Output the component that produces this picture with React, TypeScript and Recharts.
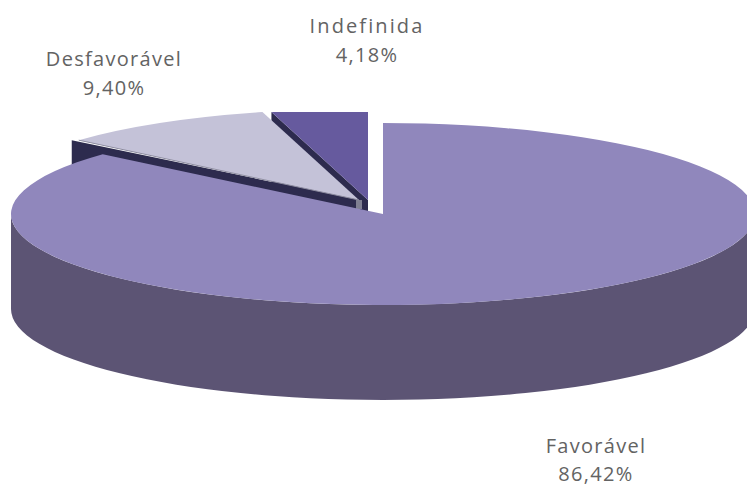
import React from 'react';
import { PieChart, Pie } from 'recharts';

// drawn back to front, so the big slice covers the walls of the small ones
const categories = ['Indefinida', 'Desfavorável', 'Favorável'];
const shares = [4.18, 9.4, 86.42];

const data = categories.map((name, i) => ({ name, value: shares[i] }));

const WIDTH = 747;
const HEIGHT = 487;
const CX = 383;
const CY = 214;
const RX = 372;
const SQUASH = 91 / 372;
const DEPTH = 95;

// explode offset, colours and label place for each slice
const sliceStyle: Record<string, any> = {
  Indefinida: { dx: -15, dy: -14, top: '#665a9e', wall: '#2d2b4e', labelX: 367, labelY: 33, gap: 29, spacing: 2.1 },
  'Desfavorável': { dx: -24, dy: -14, top: '#c4c2d8', wall: '#2d2b4e', labelX: 114, labelY: 66, gap: 29, spacing: 1.3 },
  'Favorável': { dx: 0, dy: 0, top: '#9087bc', wall: '#5c5474', labelX: 596, labelY: 453, gap: 28, spacing: 1.3 },
};

const toRad = (deg: number) => (deg * Math.PI) / 180;

const Slice3D = (props: any) => {
  const { cx, cy, outerRadius, startAngle, endAngle, payload } = props;
  const s = sliceStyle[payload.name];
  const x0 = cx + s.dx;
  const y0 = cy + s.dy;
  const ry = outerRadius * SQUASH;
  const px = (a: number) => x0 + outerRadius * Math.cos(toRad(a));
  const py = (a: number) => y0 - ry * Math.sin(toRad(a));
  const large = endAngle - startAngle > 180 ? 1 : 0;
  const topPath = `M${x0},${y0} L${px(startAngle)},${py(startAngle)} A${outerRadius},${ry} 0 ${large} 0 ${px(endAngle)},${py(endAngle)} Z`;

  let wall = null;
  if (payload.name === 'Favorável') {
    // outer rim, left extreme to right extreme through the front
    const l = x0 - outerRadius;
    const r = x0 + outerRadius;
    wall = (
      <path
        d={`M${l},${y0} A${outerRadius},${ry} 0 0 0 ${r},${y0} L${r},${y0 + DEPTH} A${outerRadius},${ry} 0 0 1 ${l},${y0 + DEPTH} Z`}
        fill={s.wall}
      />
    );
  } else {
    // cut face on the lower edge of the small slices
    const over = payload.name === 'Desfavorável' ? 7 : 0;
    const ox = px(endAngle) - over;
    const oy = py(endAngle);
    wall = (
      <path
        d={`M${x0},${y0} L${ox},${oy} L${ox},${oy + DEPTH} L${x0},${y0 + DEPTH} Z`}
        fill={s.wall}
      />
    );
  }

  return (
    <g clipPath="url(#plotClip)">
      {wall}
      {payload.name === 'Desfavorável' && (
        <rect x={x0 - 3} y={y0} width={6} height={9} fill="#7f7f92" />
      )}
      <path d={topPath} fill={s.top} />
      {payload.name === 'Desfavorável' && (
        <line
          x1={x0}
          y1={y0}
          x2={px(endAngle)}
          y2={py(endAngle)}
          stroke="#8d8ca0"
          strokeWidth={1}
        />
      )}
    </g>
  );
};

const renderLabel = (props: any) => {
  const s = sliceStyle[props.name];
  const text = props.value.toFixed(2).replace('.', ',') + '%';
  const common = {
    x: s.labelX,
    textAnchor: 'middle' as const,
    fill: '#636363',
    fontFamily: '"Open Sans", sans-serif',
    fontSize: 20,
  };
  return (
    <g key={props.name}>
      <text {...common} y={s.labelY} letterSpacing={s.spacing}>
        {props.name}
      </text>
      <text {...common} y={s.labelY + s.gap} letterSpacing={1.3}>
        {text}
      </text>
    </g>
  );
};

export default function App() {
  return (
    <div style={{ position: 'absolute', left: 0, top: 0, width: WIDTH, height: HEIGHT, background: '#fff' }}>
      <PieChart width={WIDTH} height={HEIGHT} margin={{ top: 0, right: 0, bottom: 0, left: 0 }}>
        <defs>
          <clipPath id="plotClip">
            <rect x={0} y={112} width={WIDTH} height={HEIGHT - 112} />
          </clipPath>
        </defs>
        <Pie
          data={data}
          dataKey="value"
          nameKey="name"
          cx={CX}
          cy={CY}
          innerRadius={0}
          outerRadius={RX}
          startAngle={90}
          endAngle={450}
          stroke="none"
          shape={Slice3D}
          label={renderLabel}
          labelLine={false}
          isAnimationActive={false}
        />
      </PieChart>
    </div>
  );
}
